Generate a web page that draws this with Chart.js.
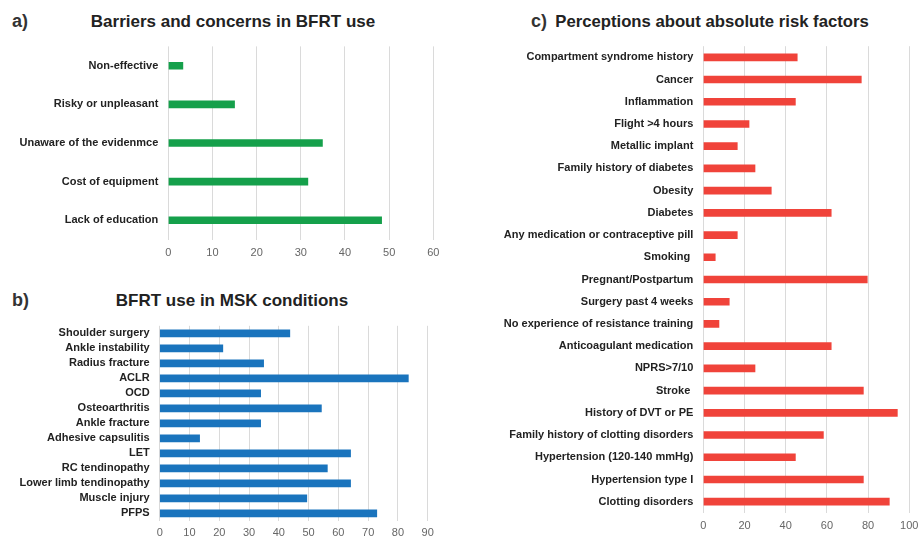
<!DOCTYPE html>
<html>
<head>
<meta charset="utf-8">
<script src="https://cdn.jsdelivr.net/npm/chart.js@4.4.1/dist/chart.umd.min.js"></script>
<style>
  html, body { margin: 0; padding: 0; background: #fff; }
  body { width: 921px; height: 537px; position: relative; overflow: hidden;
         font-family: "Liberation Sans", Arial, sans-serif; color: #222; }
  .tag, .title { position: absolute; font-weight: bold; white-space: nowrap; line-height: 20px; }
  .tag { font-size: 18px; color: #333; }
  .title { font-size: 17px; text-align: center; width: 400px; }
  canvas { position: absolute; }
</style>
</head>
<body>
<div class="tag" style="left:12px; top:11px;">a)</div>
<div class="title" style="left:33px; top:12px;">Barriers and concerns in BFRT use</div>
<div class="tag" style="left:12px; top:290px;">b)</div>
<div class="title" style="left:32px; top:291px;">BFRT use in MSK conditions</div>
<div class="tag" style="left:531px; top:11px;">c)</div>
<div class="title" style="left:512px; top:12px; font-size:16.7px;">Perceptions about absolute risk factors</div>

<canvas id="chartA" width="450" height="230" style="left:0; top:40px;"></canvas>
<canvas id="chartB" width="450" height="217" style="left:0; top:320px;"></canvas>
<canvas id="chartC" width="431" height="497" style="left:490px; top:40px;"></canvas>

<script>
// a) Barriers and concerns in BFRT use (%)
const barrierLabels = ["Non-effective", "Risky or unpleasant", "Unaware of the evidenmce", "Cost of equipment", "Lack of education"];
const barrierValues = [3.3, 15.0, 34.9, 31.6, 48.3];

// b) BFRT use in MSK conditions (%)
const mskLabels = ["Shoulder surgery", "Ankle instability", "Radius fracture", "ACLR", "OCD", "Osteoarthritis",
  "Ankle fracture", "Adhesive capsulitis", "LET", "RC tendinopathy", "Lower limb tendinopathy", "Muscle injury", "PFPS"];
const mskValues = [43.7, 21.2, 34.9, 83.5, 33.9, 54.3, 33.9, 13.4, 64.1, 56.3, 64.1, 49.4, 72.9];

// c) Perceptions about absolute risk factors (%)
const riskLabels = ["Compartment syndrome history", "Cancer", "Inflammation", "Flight >4 hours", "Metallic implant",
  "Family history of diabetes", "Obesity", "Diabetes", "Any medication or contraceptive pill", "Smoking ",
  "Pregnant/Postpartum", "Surgery past 4 weeks", "No experience of resistance training", "Anticoagulant medication",
  "NPRS>7/10", "Stroke ", "History of DVT or PE", "Family history of clotting disorders", "Hypertension (120-140 mmHg)",
  "Hypertension type I", "Clotting disorders"];
const riskValues = [45.6, 76.7, 44.7, 22.2, 16.5, 25.1, 33.0, 62.1, 16.5, 5.8, 79.6, 12.6, 7.6, 62.1, 25.1,
  77.7, 94.2, 58.3, 44.7, 77.7, 90.3];

// axis ranges
const barrierTicks = { max: 60, step: 10 };
const mskTicks = { max: 90, step: 10 };
const riskTicks = { max: 100, step: 20 };

const FONT = "'Liberation Sans', Arial, sans-serif";

function makeBarChart(id, labels, values, color, ticks, geom) {
  return new Chart(document.getElementById(id), {
    type: "bar",
    data: {
      labels: labels,
      datasets: [{
        data: values,
        backgroundColor: color,
        borderWidth: 0,
        barThickness: 7
      }]
    },
    options: {
      indexAxis: "y",
      responsive: false,
      animation: false,
      devicePixelRatio: 1,
      layout: { padding: { top: geom.padTop, right: geom.padRight, left: 0, bottom: 0 } },
      plugins: { legend: { display: false }, tooltip: { enabled: false } },
      scales: {
        x: {
          min: 0,
          max: ticks.max,
          grid: { color: "#dadada", lineWidth: 1, drawTicks: false },
          border: { display: false },
          ticks: {
            stepSize: ticks.step,
            padding: geom.tickPad,
            color: "#666",
            font: { family: FONT, size: 11 }
          },
          // fixed axis band; plot edges come from the layout padding
          afterFit: (s) => { s.height = geom.xHeight; s.paddingLeft = 0; s.paddingRight = 0; }
        },
        y: {
          grid: { display: false, drawTicks: false },
          border: { display: false },
          ticks: {
            padding: 10,
            color: "#222",
            autoSkip: false,
            font: { family: FONT, size: 11, weight: "bold" }
          },
          afterFit: (s) => { s.width = geom.yWidth; s.paddingTop = 0; s.paddingBottom = 0; }
        }
      }
    }
  });
}

makeBarChart("chartA", barrierLabels, barrierValues, "#15a04b", barrierTicks,
  { padTop: 6.4, padRight: 16.7, xHeight: 30.4, yWidth: 168.3, tickPad: 6.5 });
makeBarChart("chartB", mskLabels, mskValues, "#1a74bd", mskTicks,
  { padTop: 5.8, padRight: 22.3, xHeight: 16.2, yWidth: 159.7, tickPad: 5.9 });
makeBarChart("chartC", riskLabels, riskValues, "#f0433a", riskTicks,
  { padTop: 6.2, padRight: 11.7, xHeight: 24.2, yWidth: 213.3, tickPad: 6.3 });
</script>
</body>
</html>
